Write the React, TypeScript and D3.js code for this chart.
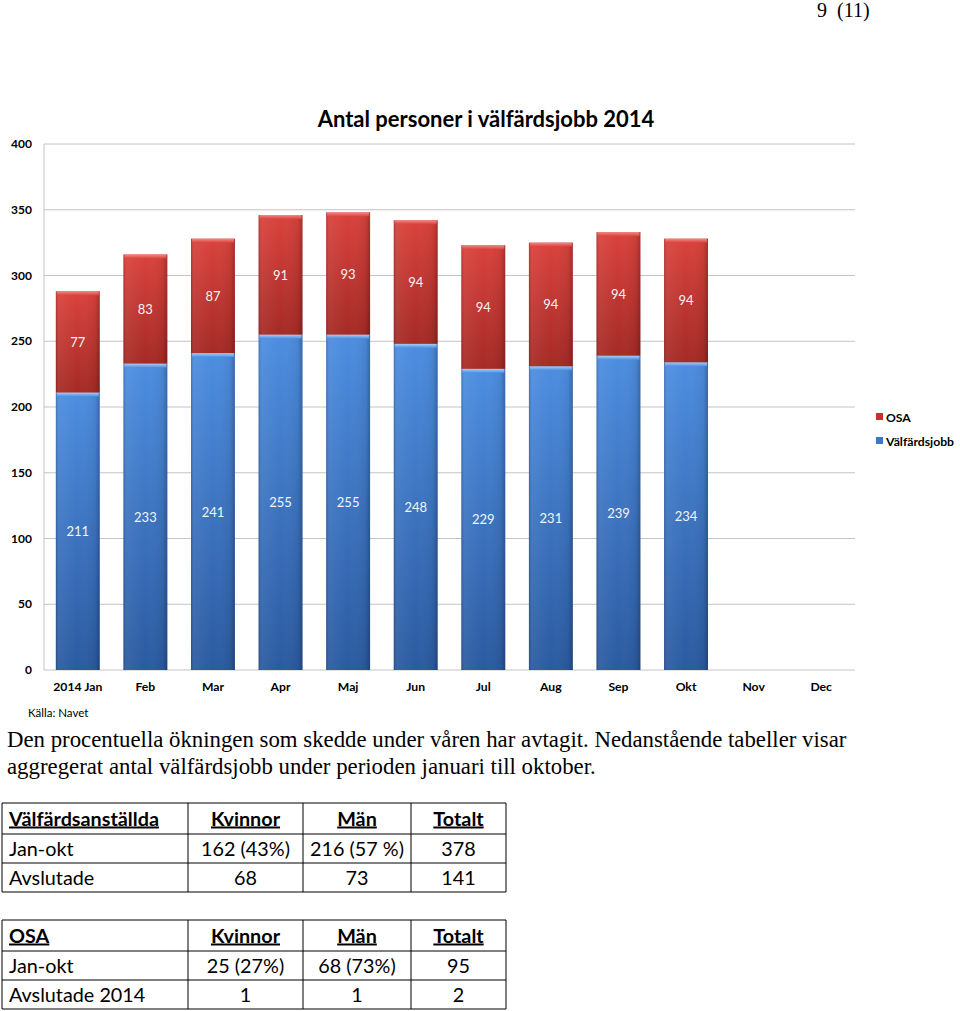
import React from "react";
import * as d3 from "d3";

const months = ["2014 Jan", "Feb", "Mar", "Apr", "Maj", "Jun", "Jul", "Aug", "Sep", "Okt", "Nov", "Dec"];
const valfardsjobb = [211, 233, 241, 255, 255, 248, 229, 231, 239, 234];
const osa = [77, 83, 87, 91, 93, 94, 94, 94, 94, 94];
const yTicks = [0, 50, 100, 150, 200, 250, 300, 350, 400];

const table1Header = ["Välfärdsanställda", "Kvinnor", "Män", "Totalt"];
const table1Rows = [
  ["Jan-okt", "162 (43%)", "216 (57 %)", "378"],
  ["Avslutade", "68", "73", "141"],
];
const table2Header = ["OSA", "Kvinnor", "Män", "Totalt"];
const table2Rows = [
  ["Jan-okt", "25 (27%)", "68 (73%)", "95"],
  ["Avslutade 2014", "1", "1", "2"],
];

const bodyLines = [
  "Den procentuella ökningen som skedde under våren har avtagit. Nedanstående tabeller visar",
  "aggregerat antal välfärdsjobb under perioden januari till oktober.",
];

const SANS = "Lato, 'Open Sans', sans-serif";
const SERIF = "'Liberation Serif', 'DejaVu Serif', serif";

function Table({ y, header, rows }: { y: number; header: string[]; rows: string[][] }) {
  const colX = [2, 188, 303, 411, 506];
  const rowH = [31, 29, 29];
  const ys = [y, y + rowH[0], y + rowH[0] + rowH[1], y + rowH[0] + rowH[1] + rowH[2]];
  const all = [header, ...rows];
  return (
    <g>
      {ys.map((yy, i) => (
        <line key={"h" + i} x1={colX[0]} x2={colX[4]} y1={yy} y2={yy} stroke="#000" strokeWidth={1} />
      ))}
      {colX.map((xx, i) => (
        <line key={"v" + i} x1={xx} x2={xx} y1={ys[0]} y2={ys[3]} stroke="#000" strokeWidth={1} />
      ))}
      {all.map((row, ri) =>
        row.map((cell, ci) => {
          const isHeader = ri === 0;
          const cy = (ys[ri] + ys[ri + 1]) / 2 + 7;
          const x = ci === 0 ? colX[0] + 7 : (colX[ci] + colX[ci + 1]) / 2;
          return (
            <text
              key={ri + "-" + ci}
              x={x}
              y={cy}
              textAnchor={ci === 0 ? "start" : "middle"}
              fontFamily={SANS}
              fontSize={19.8}
              fontWeight={isHeader ? 700 : 400}
              textDecoration={isHeader ? "underline" : "none"}
              fill="#000"
            >
              {cell}
            </text>
          );
        })
      )}
    </g>
  );
}

export default function App() {
  const W = 960;
  const H = 1011;
  const left = 44;
  const right = 855;
  const top = 144;
  const bottom = 670;

  const x = d3.scaleBand<string>().domain(months).range([left, right]).paddingInner(0.35).paddingOuter(0.175);
  const y = d3.scaleLinear().domain([0, 400]).range([bottom, top]);
  const bw = x.bandwidth();

  return (
    <svg width={W} height={H} style={{ position: "absolute", left: 0, top: 0, background: "#fff" }}>
      <defs>
        <linearGradient id="blueV" x1="0" y1="0" x2="0" y2="1">
          <stop offset="0" stopColor="#4d8de0" />
          <stop offset="1" stopColor="#2b5aa0" />
        </linearGradient>
        <linearGradient id="redV" x1="0" y1="0" x2="0" y2="1">
          <stop offset="0" stopColor="#da423c" />
          <stop offset="1" stopColor="#a52a26" />
        </linearGradient>
        <linearGradient id="shadeH" x1="0" y1="0" x2="1" y2="0">
          <stop offset="0" stopColor="#000" stopOpacity={0.18} />
          <stop offset="0.08" stopColor="#fff" stopOpacity={0.06} />
          <stop offset="0.5" stopColor="#fff" stopOpacity={0} />
          <stop offset="0.9" stopColor="#000" stopOpacity={0.06} />
          <stop offset="1" stopColor="#000" stopOpacity={0.25} />
        </linearGradient>
        <linearGradient id="bevelBlue" x1="0" y1="0" x2="0" y2="1">
          <stop offset="0" stopColor="#a9cdf5" />
          <stop offset="1" stopColor="#4f8fe2" />
        </linearGradient>
        <linearGradient id="bevelRed" x1="0" y1="0" x2="0" y2="1">
          <stop offset="0" stopColor="#f08a84" />
          <stop offset="1" stopColor="#dc423c" />
        </linearGradient>
      </defs>

      {/* page number */}
      <text x={817} y={17} fontFamily={SERIF} fontSize={20} fill="#000" style={{ whiteSpace: "pre" }}>
        {"9  (11)"}
      </text>

      {/* title */}
      <text x={486} y={127} textAnchor="middle" fontFamily={SANS} fontSize={22} fontWeight={700} fill="#000">
        Antal personer i välfärdsjobb 2014
      </text>

      {/* gridlines */}
      {yTicks.map((t) => (
        <g key={t}>
          <line x1={left} x2={right} y1={y(t)} y2={y(t)} stroke="#c4c4c4" strokeWidth={1} />
          <text x={32} y={y(t) + 4} textAnchor="end" fontFamily={SANS} fontSize={12} fontWeight={700} fill="#000">
            {t}
          </text>
        </g>
      ))}
      <line x1={left} x2={left} y1={top} y2={bottom} stroke="#c4c4c4" strokeWidth={1} />

      {/* bars */}
      {valfardsjobb.map((v, i) => {
        const m = months[i];
        const bx = x(m)!;
        const r = osa[i];
        const yb = y(v);
        const yr = y(v + r);
        return (
          <g key={m}>
            <rect x={bx} y={yb} width={bw} height={bottom - yb} fill="url(#blueV)" />
            <rect x={bx} y={yb} width={bw} height={bottom - yb} fill="url(#shadeH)" />
            <rect x={bx + 1} y={yb} width={bw - 2} height={4} fill="url(#bevelBlue)" />
            <rect x={bx} y={yr} width={bw} height={yb - yr} fill="url(#redV)" />
            <rect x={bx} y={yr} width={bw} height={yb - yr} fill="url(#shadeH)" />
            <rect x={bx + 1} y={yr} width={bw - 2} height={4} fill="url(#bevelRed)" />
            <text x={bx + bw / 2} y={(yb + bottom) / 2 + 5} textAnchor="middle" fontFamily={SANS} fontSize={13} fill="#f4f4f4">
              {v}
            </text>
            <text x={bx + bw / 2} y={(yr + yb) / 2 + 5} textAnchor="middle" fontFamily={SANS} fontSize={13} fill="#f4f4f4">
              {r}
            </text>
          </g>
        );
      })}

      {/* x labels */}
      {months.map((m) => (
        <text key={m} x={x(m)! + bw / 2} y={691} textAnchor="middle" fontFamily={SANS} fontSize={12.2} fontWeight={700} fill="#000">
          {m}
        </text>
      ))}

      {/* legend */}
      <rect x={876} y={413} width={7} height={7} fill="#c9302c" />
      <text x={886} y={421.5} fontFamily={SANS} fontSize={12.2} fontWeight={700} fill="#000">OSA</text>
      <rect x={876} y={437} width={7} height={7} fill="#3c78c8" />
      <text x={886} y={445.5} fontFamily={SANS} fontSize={12.2} fontWeight={700} fill="#000">Välfärdsjobb</text>

      {/* source */}
      <text x={28} y={717} fontFamily={SANS} fontSize={11.5} fill="#000">Källa: Navet</text>

      {/* body text */}
      {bodyLines.map((l, i) => (
        <text key={i} x={7} y={747 + i * 27} fontFamily={SERIF} fontSize={22.8} fill="#000">
          {l}
        </text>
      ))}

      <Table y={803} header={table1Header} rows={table1Rows} />
      <Table y={920} header={table2Header} rows={table2Rows} />
    </svg>
  );
}
